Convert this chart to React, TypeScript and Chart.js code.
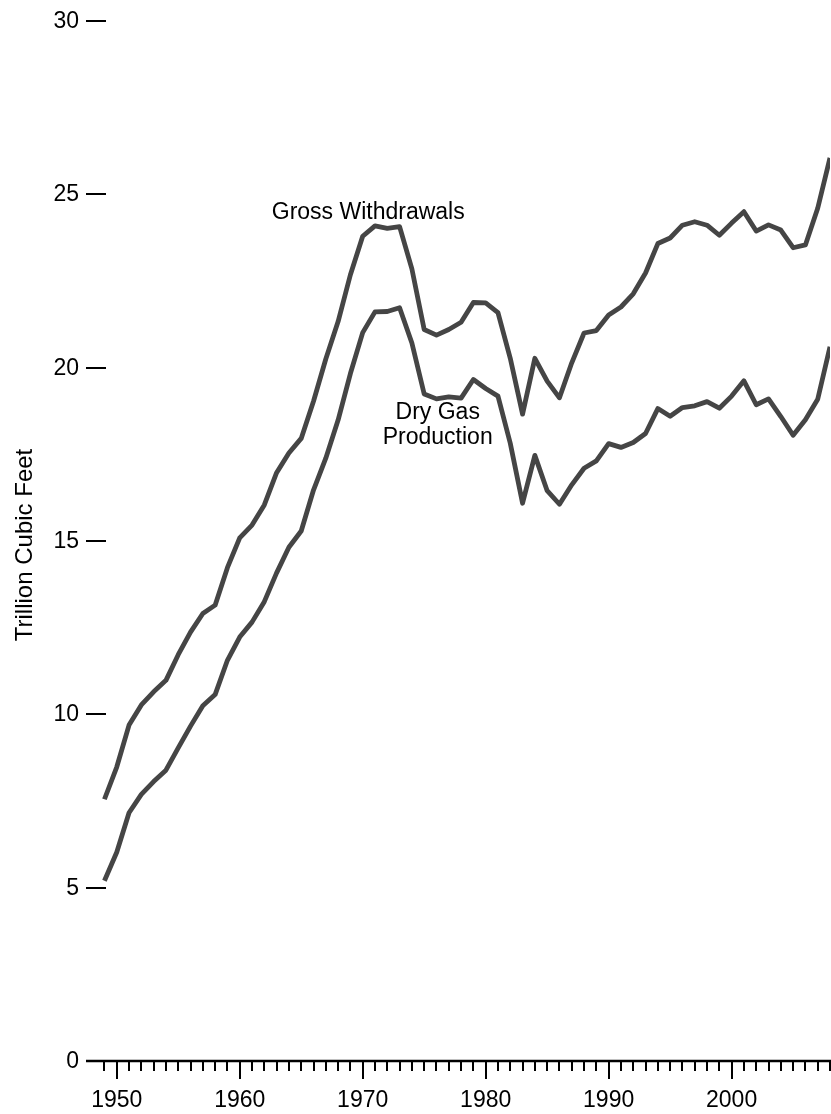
import React, { useEffect, useRef } from "react";
import { Chart, registerables } from "chart.js";

Chart.register(...registerables);

const years: number[] = [];
for (let y = 1949; y <= 2008; y++) years.push(y);

const grossWithdrawals = [
  7.55, 8.48, 9.69, 10.27, 10.65, 10.98, 11.72, 12.37, 12.91, 13.15,
  14.23, 15.09, 15.46, 16.04, 16.97, 17.54, 17.96, 19.03, 20.25, 21.33,
  22.68, 23.79, 24.09, 24.02, 24.07, 22.85, 21.1, 20.94, 21.1, 21.31,
  21.88, 21.87, 21.59, 20.27, 18.66, 20.27, 19.61, 19.13, 20.14, 21.0,
  21.07, 21.52, 21.75, 22.13, 22.73, 23.58, 23.74, 24.11, 24.21, 24.11,
  23.82, 24.17, 24.5, 23.94, 24.12, 23.97, 23.46, 23.54, 24.6, 26.05,
];

const dryGasProduction = [
  5.2, 6.02, 7.16, 7.69, 8.06, 8.39, 9.03, 9.66, 10.25, 10.57,
  11.56, 12.23, 12.66, 13.25, 14.08, 14.82, 15.29, 16.47, 17.39, 18.49,
  19.83, 21.01, 21.61, 21.62, 21.73, 20.71, 19.24, 19.1, 19.16, 19.12,
  19.66, 19.4, 19.18, 17.82, 16.09, 17.47, 16.45, 16.06, 16.62, 17.1,
  17.31, 17.81, 17.7, 17.84, 18.1, 18.82, 18.6, 18.85, 18.9, 19.02,
  18.83, 19.18, 19.62, 18.93, 19.1, 18.59, 18.05, 18.5, 19.09, 20.6,
];

const yTicks = [0, 5, 10, 15, 20, 25, 30];
const xMajorTicks = [1950, 1960, 1970, 1980, 1990, 2000];
const xMinorStart = 1949;
const xMinorEnd = 2008;

const labelTexts = ["Gross Withdrawals", "Dry Gas", "Production"];
const labelYears = [1970.45, 1976.1, 1976.1];
const labelValues = [24.47, 18.69, 17.97];

const yTitle = "Trillion Cubic Feet";
const FONT = '"Liberation Sans", Arial, sans-serif';

const axesPlugin = {
  id: "customAxes",
  afterDraw(chart: any) {
    const ctx = chart.ctx;
    const xs = chart.scales.x;
    const ys = chart.scales.y;
    const area = chart.chartArea;
    ctx.save();
    ctx.strokeStyle = "#000";
    ctx.fillStyle = "#000";
    // y ticks
    ctx.lineWidth = 2;
    ctx.font = `23px ${FONT}`;
    ctx.textAlign = "right";
    ctx.textBaseline = "middle";
    for (const t of yTicks) {
      const py = Math.round(ys.getPixelForValue(t));
      ctx.beginPath();
      ctx.moveTo(area.left, py);
      ctx.lineTo(area.left + 20, py);
      ctx.stroke();
      ctx.fillText(String(t), area.left - 7, py + 1);
    }
    // x axis line
    const y0 = Math.round(ys.getPixelForValue(0));
    ctx.lineWidth = 2.5;
    ctx.beginPath();
    ctx.moveTo(area.left, y0);
    ctx.lineTo(chart.width, y0);
    ctx.stroke();
    // x ticks
    ctx.lineWidth = 2;
    for (let yr = xMinorStart; yr <= xMinorEnd; yr++) {
      const px = Math.round(xs.getPixelForValue(yr));
      const major = xMajorTicks.includes(yr);
      ctx.beginPath();
      ctx.moveTo(px, y0);
      ctx.lineTo(px, y0 + (major ? 18 : 10));
      ctx.stroke();
    }
    ctx.textAlign = "center";
    ctx.textBaseline = "middle";
    for (const t of xMajorTicks) {
      const px = xs.getPixelForValue(t);
      ctx.fillText(String(t), px, y0 + 40);
    }
    // annotations
    for (let i = 0; i < labelTexts.length; i++) {
      ctx.fillText(
        labelTexts[i],
        xs.getPixelForValue(labelYears[i]),
        ys.getPixelForValue(labelValues[i])
      );
    }
    // y title
    ctx.font = `24px ${FONT}`;
    ctx.translate(25, ys.getPixelForValue(15) + 4);
    ctx.rotate(-Math.PI / 2);
    ctx.fillText(yTitle, 0, 0);
    ctx.restore();
  },
};

export default function App() {
  const ref = useRef<HTMLCanvasElement | null>(null);
  useEffect(() => {
    if (!ref.current) return;
    const lineStyle = {
      borderColor: "#454545",
      borderWidth: 4.8,
      pointRadius: 0,
      tension: 0,
      borderJoinStyle: "round" as const,
      borderCapStyle: "butt" as const,
      fill: false,
    };
    const chart = new Chart(ref.current, {
      type: "line",
      data: {
        datasets: [
          {
            label: "Gross Withdrawals",
            data: years.map((yr, i) => ({ x: yr, y: grossWithdrawals[i] })),
            ...lineStyle,
          },
          {
            label: "Dry Gas Production",
            data: years.map((yr, i) => ({ x: yr, y: dryGasProduction[i] })),
            ...lineStyle,
          },
        ],
      },
      options: {
        animation: false,
        responsive: false,
        maintainAspectRatio: false,
        layout: { padding: { left: 86, right: 1, top: 21, bottom: 53 } },
        plugins: {
          legend: { display: false },
          tooltip: { enabled: false },
          title: { display: false },
        },
        scales: {
          x: { type: "linear", min: 1947.5, max: 2008, display: false },
          y: { type: "linear", min: 0, max: 30, display: false },
        },
      },
      plugins: [axesPlugin],
    });
    return () => chart.destroy();
  }, []);
  return (
    <div style={{ position: "fixed", left: 0, top: 0, width: 831, height: 1114, background: "#fff" }}>
      <canvas ref={ref} width={831} height={1114} style={{ display: "block" }} />
    </div>
  );
}
